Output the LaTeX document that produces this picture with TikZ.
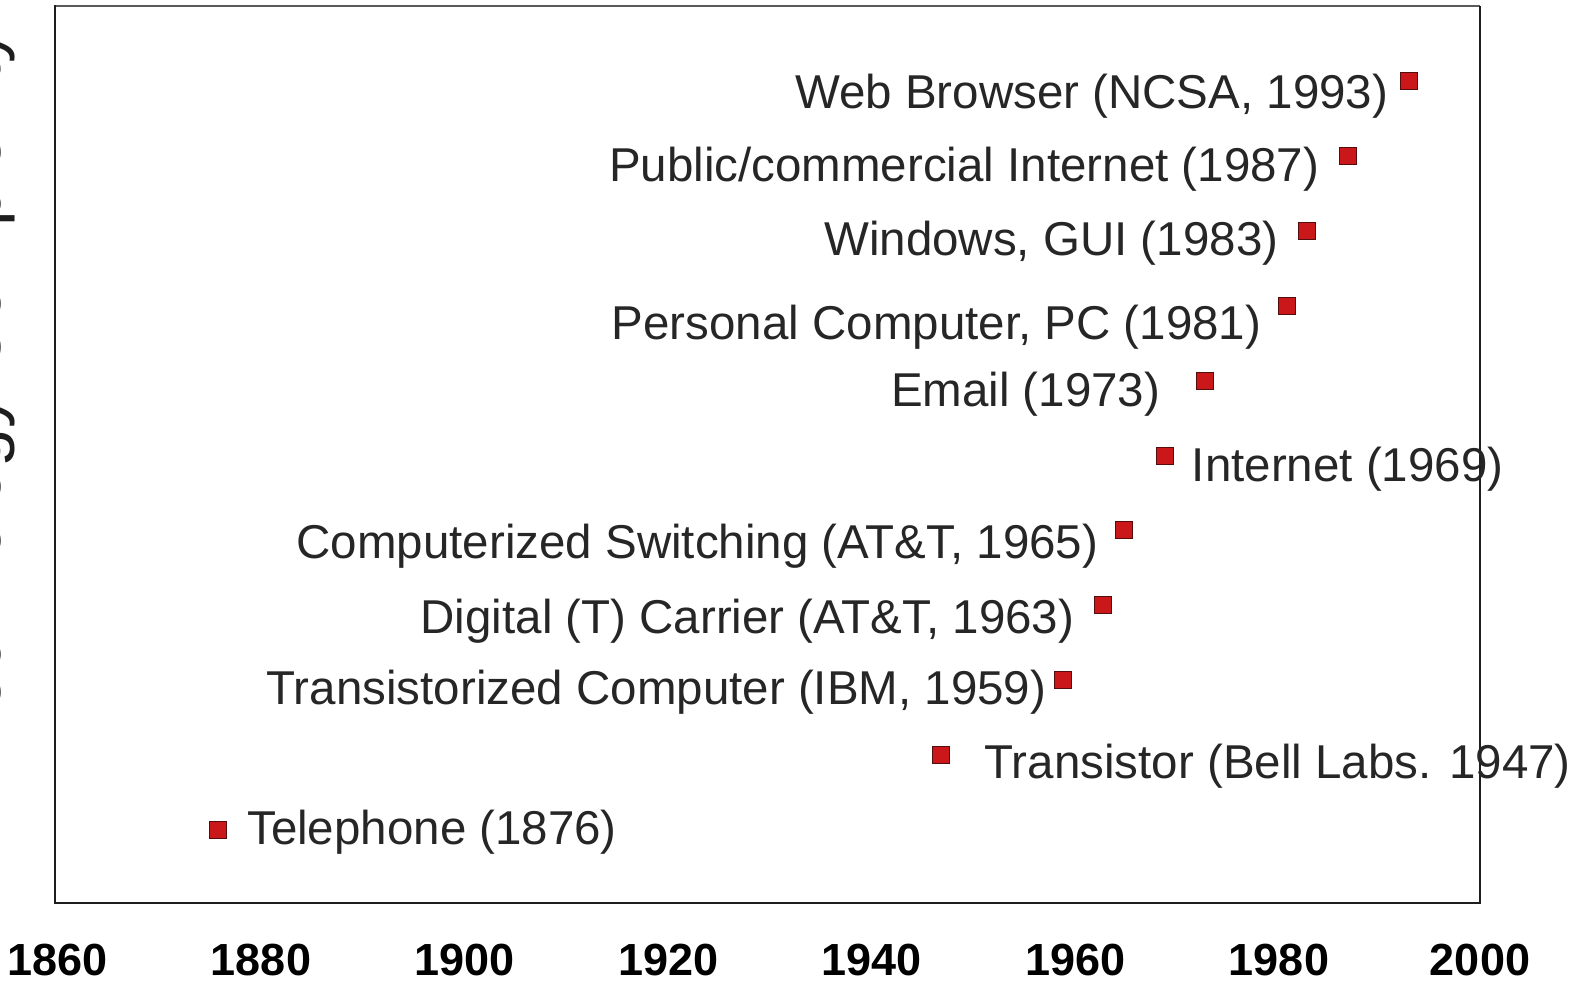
\documentclass[tikz,border=0pt]{standalone}
\usepackage{fontspec}
\setmainfont{Liberation Sans}
\definecolor{mkred}{RGB}{202,24,26}
\definecolor{mkborder}{RGB}{85,12,12}
\definecolor{lblgray}{RGB}{38,38,38}
\definecolor{framedark}{RGB}{30,30,30}
\definecolor{framegray}{RGB}{90,90,90}
\begin{document}
\begin{tikzpicture}[x=1pt,y=-1pt,
  mk/.style={rectangle, draw=mkborder, fill=mkred, line width=0.9pt, minimum size=17pt, inner sep=0pt},
  lbl/.style={inner sep=0pt, text=lblgray, font=\fontsize{47.5}{57}\selectfont},
  tick/.style={inner sep=0pt, anchor=base, text=black, font=\fontsize{45}{54}\selectfont\bfseries},
  ylbl/.style={inner sep=0pt, rotate=90, anchor=base west, text=framedark, font=\fontsize{70}{84}\selectfont}]
\useasboundingbox (0,0) rectangle (1575,981);
\begin{scope}
\clip (0,0) rectangle (1575,981);
% frame
\coordinate (tl) at (55,6);
\coordinate (tr) at (1480,6);
\coordinate (bl) at (55,903);
\coordinate (br) at (1480,903);
\draw[framegray, line width=1.6pt] (tl) -- (tr);
\draw[framedark, line width=1.3pt] (tr) -- (br);
\draw[framedark, line width=2.6pt, line cap=rect] (tl) -- (bl) -- (br);
% y-axis title (cut off at the left edge)
\node[ylbl] (ytitle) at (0.5,748) {Technology Complexity};
% markers
\node[mk] (m1) at (1408.8,81.4) {};
\node[mk] (m2) at (1347.7,156.2) {};
\node[mk] (m3) at (1307.0,231.0) {};
\node[mk] (m4) at (1286.7,305.9) {};
\node[mk] (m5) at (1205.2,380.7) {};
\node[mk] (m6) at (1164.5,455.6) {};
\node[mk] (m7) at (1123.8,530.4) {};
\node[mk] (m8) at (1103.4,605.2) {};
\node[mk] (m9) at (1062.7,680.1) {};
\node[mk] (m10) at (940.6,754.9) {};
\node[mk] (m11) at (217.9,829.7) {};
% labels
\node[lbl, anchor=base east] (t1) at (1388.5,108.5) {Web Browser (NCSA, 1993)};
\node[lbl, anchor=base east] (t2) at (1319.5,182) {Public/commercial Internet (1987)};
\node[lbl, anchor=base east] (t3) at (1278.5,256) {Windows, GUI (1983)};
\node[lbl, anchor=base east] (t4) at (1261.5,339.5) {Personal Computer, PC (1981)};
\node[lbl, anchor=base east] (t5) at (1160.5,407) {Email (1973)};
\node[lbl, anchor=base west] (t6) at (1191.6,482) {Internet (1969)};
\node[lbl, anchor=base east] (t7) at (1098.5,558.5) {Computerized Switching (AT\&T, 1965)};
\node[lbl, anchor=base east] (t8) at (1074.5,633) {Digital (T) Carrier (AT\&T, 1963)};
\node[lbl, anchor=base east] (t9) at (1046.5,704) {Transistorized Computer (IBM, 1959)};
\node[lbl, anchor=base west] (t10) at (984.5,778.5) {Transistor (Bell Labs. 1947)};
\node[lbl, anchor=base west] (t11) at (247,844) {Telephone (1876)};
% x tick labels
\node[tick] (x1860) at (57.5,975) {1860};
\node[tick] (x1880) at (261,975) {1880};
\node[tick] (x1900) at (464.6,975) {1900};
\node[tick] (x1920) at (668.2,975) {1920};
\node[tick] (x1940) at (871.8,975) {1940};
\node[tick] (x1960) at (1075.4,975) {1960};
\node[tick] (x1980) at (1279,975) {1980};
\node[tick] (x2000) at (1480,975) {2000};
\end{scope}
\end{tikzpicture}
\end{document}
